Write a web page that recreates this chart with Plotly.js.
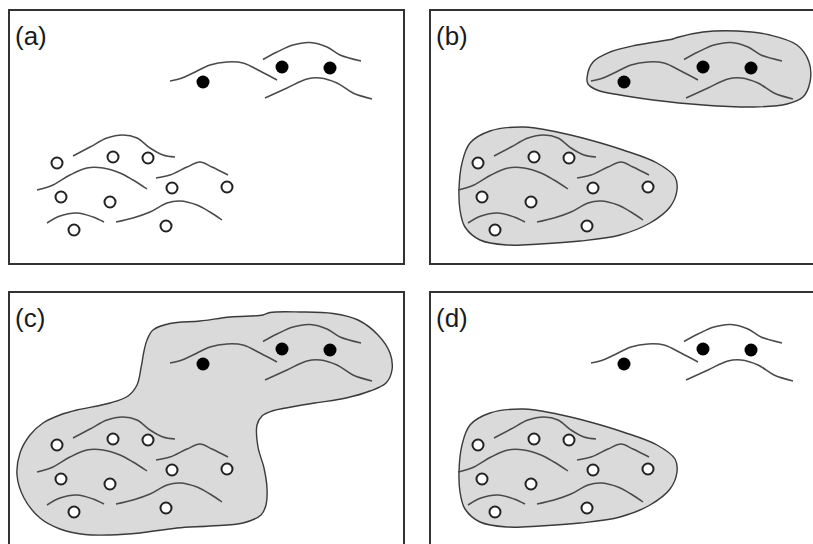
<!DOCTYPE html>
<html>
<head>
<meta charset="utf-8">
<script src="https://cdn.plot.ly/plotly-3.0.1.min.js"></script>
<style>html,body{margin:0;padding:0;background:#fff;}#chart{width:813px;height:544px;}</style>
</head>
<body>
<div id="chart"></div>
<script>
// Panel labels
const panelLabels = ['(a)', '(b)', '(c)', '(d)'];

// Filled (black) points, panel-local coordinates
const filledX = [193, 272, 320];
const filledY = [71, 56, 57];

// Open (white) points
const openX = [47, 103, 138, 162, 217, 51, 100, 64, 156];
const openY = [152, 146, 147, 177, 176, 186, 191, 219, 215];

// Wavy curves near the filled points
const curveA1X = [160, 172, 183, 200, 217, 233, 250, 267];
const curveA1Y = [70, 67, 62, 54, 51, 52, 60, 69];
const curveA2X = [253, 267, 283, 300, 317, 330, 351];
const curveA2Y = [48.5, 41, 34, 31.5, 36, 44, 50];
const curveA3X = [255, 277, 297, 310, 327, 343, 362];
const curveA3Y = [87, 77, 68, 67, 72, 82, 88];

// Wavy curves near the open points
const curveL1X = [63, 80, 97, 113, 127, 140, 153, 165];
const curveL1Y = [145, 136, 127, 124, 127, 137, 144, 146];
const curveL2X = [27, 43, 60, 77, 93, 110, 123, 137];
const curveL2Y = [179, 174, 164, 157, 157, 162, 169, 178];
const curveL3X = [146, 160, 177, 190, 202, 218];
const curveL3Y = [167, 164, 156, 151, 156, 164];
const curveL4X = [37, 50, 67, 83, 94];
const curveL4Y = [212, 205, 202, 206, 211];
const curveL5X = [106, 123, 140, 157, 170, 187, 200, 212];
const curveL5Y = [211, 207, 201, 192, 190, 194, 201, 209];

// Cluster outlines
const blobUpperX = [156, 162, 179, 206, 242, 246, 272, 306, 339, 366, 378, 379, 372, 356, 322, 272, 222, 189, 166, 157, 156];
const blobUpperY = [67, 51, 41, 34, 28, 26.5, 21, 20, 24, 34, 51, 71, 86, 93, 96, 94, 89, 84, 79, 73, 67];
const blobLowerX = [28, 31, 39, 59, 92, 126, 159, 192, 226, 244, 246, 239, 219, 189, 149, 109, 76, 49, 34, 29, 28];
const blobLowerY = [179, 152, 132, 120, 116, 121, 129, 139, 152, 166, 179, 196, 212, 224, 230, 233, 234, 229, 216, 199, 179];
const blobMergedX = [137, 143, 160, 190, 220, 253, 260, 290, 323, 348, 368, 380, 382, 376, 360, 336, 305, 276, 262, 252, 247, 248, 254, 257, 256, 251, 233, 200, 167, 130, 100, 75, 50, 30, 14, 7, 10, 20, 33, 50, 67, 100, 118, 127, 131, 134, 137];
const blobMergedY = [47, 37, 30.5, 28, 24, 22, 19.5, 19, 20.5, 27, 42, 60, 77, 90, 98, 105, 110, 115, 118, 123, 132, 154, 175, 195, 212, 222, 230, 233, 235, 240, 242, 241.5, 236, 225, 205, 182, 160, 142, 130, 122, 117, 110, 103, 92, 75, 58, 47];

const curves = [
  [curveA1X, curveA1Y], [curveA2X, curveA2Y], [curveA3X, curveA3Y],
  [curveL1X, curveL1Y], [curveL2X, curveL2Y], [curveL3X, curveL3Y],
  [curveL4X, curveL4Y], [curveL5X, curveL5Y]
];

const panelBlobs = [
  [],
  [[blobUpperX, blobUpperY], [blobLowerX, blobLowerY]],
  [[blobMergedX, blobMergedY]],
  [[blobLowerX, blobLowerY]]
];

const axIds = ['', '2', '3', '4'];
const traces = [];
axIds.forEach((id, p) => {
  const xa = 'x' + id, ya = 'y' + id;
  panelBlobs[p].forEach(b => {
    traces.push({
      type: 'scatter', mode: 'lines', x: b[0], y: b[1], xaxis: xa, yaxis: ya,
      fill: 'toself', fillcolor: '#dadada',
      line: {color: '#3a3a3a', width: 1.4, shape: 'spline', smoothing: 1},
      hoverinfo: 'skip'
    });
  });
  curves.forEach(c => {
    traces.push({
      type: 'scatter', mode: 'lines', x: c[0], y: c[1], xaxis: xa, yaxis: ya,
      line: {color: '#4a4a4a', width: 1.5, shape: 'spline', smoothing: 1},
      hoverinfo: 'skip'
    });
  });
  traces.push({
    type: 'scatter', mode: 'markers', x: openX, y: openY, xaxis: xa, yaxis: ya,
    marker: {symbol: 'circle', size: 11, color: '#ffffff', line: {color: '#222', width: 2}},
    hoverinfo: 'skip'
  });
  traces.push({
    type: 'scatter', mode: 'markers', x: filledX, y: filledY, xaxis: xa, yaxis: ya,
    marker: {symbol: 'circle', size: 13, color: '#000000', line: {width: 0}},
    hoverinfo: 'skip'
  });
});

const W = 813, H = 544;
const px = v => v / W;
const py = v => 1 - v / H;
const base = {showgrid: false, zeroline: false, showticklabels: false, ticks: '', fixedrange: true,
  linecolor: '#333', linewidth: 2};

const layout = {
  width: W, height: H,
  margin: {l: 0, r: 0, t: 0, b: 0},
  paper_bgcolor: '#ffffff', plot_bgcolor: 'rgba(0,0,0,0)',
  showlegend: false,
  font: {family: 'Liberation Sans, Arial, sans-serif', color: '#222'},
  xaxis:  Object.assign({}, base, {domain: [px(10), px(403)], range: [0, 393], showline: true, mirror: true, anchor: 'y'}),
  yaxis:  Object.assign({}, base, {domain: [py(263), py(11)], range: [252, 0], showline: true, mirror: true, anchor: 'x'}),
  xaxis2: Object.assign({}, base, {domain: [px(431), 1], range: [0, 382], showline: true, mirror: true, anchor: 'y2'}),
  yaxis2: Object.assign({}, base, {domain: [py(263), py(11)], range: [252, 0], showline: true, mirror: false, anchor: 'x2'}),
  xaxis3: Object.assign({}, base, {domain: [px(10), px(403)], range: [0, 393], showline: true, side: 'top', mirror: false, anchor: 'y3'}),
  yaxis3: Object.assign({}, base, {domain: [0, py(293)], range: [251, 0], showline: true, mirror: true, anchor: 'x3'}),
  xaxis4: Object.assign({}, base, {domain: [px(431), 1], range: [0, 382], showline: true, side: 'top', mirror: false, anchor: 'y4'}),
  yaxis4: Object.assign({}, base, {domain: [0, py(293)], range: [251, 0], showline: true, mirror: false, anchor: 'x4'}),
  annotations: panelLabels.map((t, i) => ({
    text: t, xref: 'x' + axIds[i], yref: 'y' + axIds[i], x: 3, y: 8,
    xanchor: 'left', yanchor: 'top', showarrow: false,
    font: {size: 26, color: '#1a1a1a', family: 'Liberation Sans, Arial, sans-serif'}
  }))
};

Plotly.newPlot('chart', traces, layout, {staticPlot: true, displayModeBar: false});
</script>
</body>
</html>
